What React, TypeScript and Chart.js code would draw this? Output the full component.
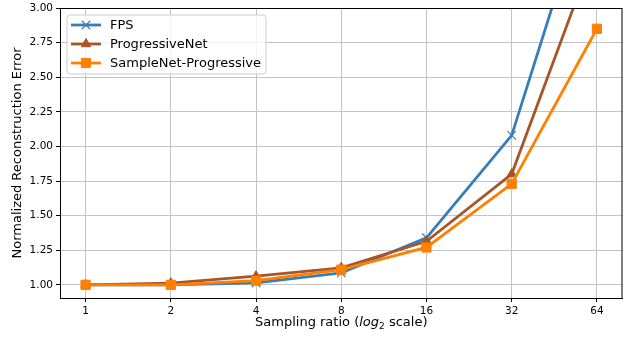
import React, { useEffect, useRef } from "react";
import { Chart, registerables } from "chart.js";
import { drawPoint } from "chart.js/helpers";

Chart.register(...registerables);

const categories = [1, 2, 4, 8, 16, 32, 64];
const fpsValues = [1.0, 1.0, 1.015, 1.087, 1.34, 2.08, 4.03];
const progressiveNetValues = [1.0, 1.012, 1.063, 1.123, 1.315, 1.8, 3.46];
const sampleNetValues = [1.0, 1.0, 1.03, 1.11, 1.27, 1.73, 2.85];
const yTickValues = [1.0, 1.25, 1.5, 1.75, 2.0, 2.25, 2.5, 2.75, 3.0];
const seriesNames = ["FPS", "ProgressiveNet", "SampleNet-Progressive"];

const BLUE = "#377eb8";
const BROWN = "#a65628";
const ORANGE = "#ff7f00";
const FONT = "'DejaVu Sans', sans-serif";

const series = [
  { name: seriesNames[0], values: fpsValues, color: BLUE, style: "crossRot", radius: 6, bw: 1.2 },
  { name: seriesNames[1], values: progressiveNetValues, color: BROWN, style: "triangle", radius: 5.5, bw: 1 },
  { name: seriesNames[2], values: sampleNetValues, color: ORANGE, style: "rect", radius: 6.5, bw: 1 },
];

const decorPlugin = {
  id: "decor",
  afterDatasetsDraw(chart: any) {
    const { ctx, chartArea } = chart;
    const { left, right, top, bottom } = chartArea;
    ctx.save();
    ctx.strokeStyle = "#000";
    ctx.lineWidth = 1;
    ctx.strokeRect(left + 0.5, top + 0.5, right - left - 1, bottom - top);
    ctx.restore();
  },
  afterDraw(chart: any) {
    const { ctx, chartArea } = chart;
    const { left, right, top, bottom } = chartArea;
    ctx.save();
    // legend
    const bx = 67, by = 15, bw = 199, bh = 59, r = 3;
    ctx.beginPath();
    ctx.moveTo(bx + r, by);
    ctx.lineTo(bx + bw - r, by);
    ctx.quadraticCurveTo(bx + bw, by, bx + bw, by + r);
    ctx.lineTo(bx + bw, by + bh - r);
    ctx.quadraticCurveTo(bx + bw, by + bh, bx + bw - r, by + bh);
    ctx.lineTo(bx + r, by + bh);
    ctx.quadraticCurveTo(bx, by + bh, bx, by + bh - r);
    ctx.lineTo(bx, by + r);
    ctx.quadraticCurveTo(bx, by, bx + r, by);
    ctx.closePath();
    ctx.fillStyle = "rgba(255,255,255,0.8)";
    ctx.fill();
    ctx.strokeStyle = "#cccccc";
    ctx.lineWidth = 1;
    ctx.stroke();

    const rowsY = [25, 44, 63];
    series.forEach((s, i) => {
      const y = rowsY[i];
      ctx.strokeStyle = s.color;
      ctx.lineWidth = 2.8;
      ctx.beginPath();
      ctx.moveTo(71, y);
      ctx.lineTo(101, y);
      ctx.stroke();
      ctx.fillStyle = s.color;
      ctx.strokeStyle = s.color;
      ctx.lineWidth = s.bw;
      drawPoint(ctx, { pointStyle: s.style, radius: s.radius, borderWidth: s.bw, rotation: 0 } as any, 86, y);
      ctx.fillStyle = "#000";
      ctx.font = `13px ${FONT}`;
      ctx.textBaseline = "middle";
      ctx.textAlign = "left";
      ctx.fillText(s.name, 110, y + 1);
    });

    // x axis title with italic log and subscript 2
    ctx.fillStyle = "#000";
    ctx.textBaseline = "alphabetic";
    ctx.textAlign = "left";
    const parts = [
      { t: "Sampling ratio (", f: `13px ${FONT}`, dy: 0 },
      { t: "log", f: `italic 13px ${FONT}`, dy: 0 },
      { t: "2", f: `9px ${FONT}`, dy: 2.5 },
      { t: " scale)", f: `13px ${FONT}`, dy: 0 },
    ];
    let total = 0;
    parts.forEach((p) => {
      ctx.font = p.f;
      total += ctx.measureText(p.t).width;
    });
    let x = (left + right) / 2 - total / 2;
    const base = 326;
    parts.forEach((p) => {
      ctx.font = p.f;
      ctx.fillText(p.t, x, base + p.dy);
      x += ctx.measureText(p.t).width;
    });

    // y axis title
    ctx.save();
    ctx.translate(18, (top + bottom) / 2);
    ctx.rotate(-Math.PI / 2);
    ctx.font = `13px ${FONT}`;
    ctx.textAlign = "center";
    ctx.textBaseline = "middle";
    ctx.fillText("Normalized Reconstruction Error", 0, 0);
    ctx.restore();
    ctx.restore();
  },
};

export default function App() {
  const ref = useRef<HTMLCanvasElement>(null);
  useEffect(() => {
    document.body.style.margin = "0";
    const canvas = ref.current!;
    const chart = new Chart(canvas, {
      type: "line",
      data: {
        datasets: series.map((s, i) => ({
          label: s.name,
          data: categories.map((c, j) => ({ x: c, y: s.values[j] })),
          borderColor: s.color,
          backgroundColor: s.color,
          borderWidth: 2.8,
          pointStyle: s.style as any,
          pointRadius: s.radius,
          pointBorderWidth: s.bw,
          pointBackgroundColor: s.color,
          pointBorderColor: s.color,
          tension: 0,
          order: 2 - i,
        })),
      },
      options: {
        animation: false,
        responsive: false,
        devicePixelRatio: 1,
        layout: { autoPadding: false, padding: { left: 0, right: 4.5, top: 8, bottom: 0 } },
        plugins: { legend: { display: false }, tooltip: { enabled: false } },
        events: [],
        scales: {
          x: {
            type: "logarithmic",
            min: Math.pow(2, -0.3),
            max: Math.pow(2, 6.3),
            afterBuildTicks: (scale: any) => {
              scale.ticks = categories.map((v) => ({ value: v }));
            },
            afterFit: (scale: any) => {
              scale.height = 41;
              scale.paddingLeft = 0;
              scale.paddingRight = 0;
            },
            ticks: {
              autoSkip: false,
              maxRotation: 0,
              color: "#000",
              font: { family: FONT, size: 10.5 },
              padding: 3,
              callback: (v: any) => String(v),
            },
            grid: {
              color: "#c4c4c4",
              lineWidth: 1,
              tickColor: "#000",
              tickLength: 4,
              drawTicks: true,
            },
            border: { color: "#000", width: 1 },
          },
          y: {
            type: "linear",
            min: 0.905,
            max: 3.0,
            afterBuildTicks: (scale: any) => {
              scale.ticks = yTickValues.map((v) => ({ value: v }));
            },
            afterFit: (scale: any) => {
              scale.width = 60;
              scale.paddingTop = 0;
              scale.paddingBottom = 0;
            },
            ticks: {
              color: "#000",
              font: { family: FONT, size: 10.5 },
              padding: 3,
              callback: (v: any) => Number(v).toFixed(2),
            },
            grid: {
              color: "#c4c4c4",
              lineWidth: 1,
              tickColor: "#000",
              tickLength: 4,
              drawTicks: true,
            },
            border: { color: "#000", width: 1 },
          },
        },
      },
      plugins: [decorPlugin],
    });
    return () => chart.destroy();
  }, []);
  return (
    <div style={{ width: 627, height: 339 }}>
      <canvas ref={ref} width={627} height={339} style={{ display: "block" }} />
    </div>
  );
}
